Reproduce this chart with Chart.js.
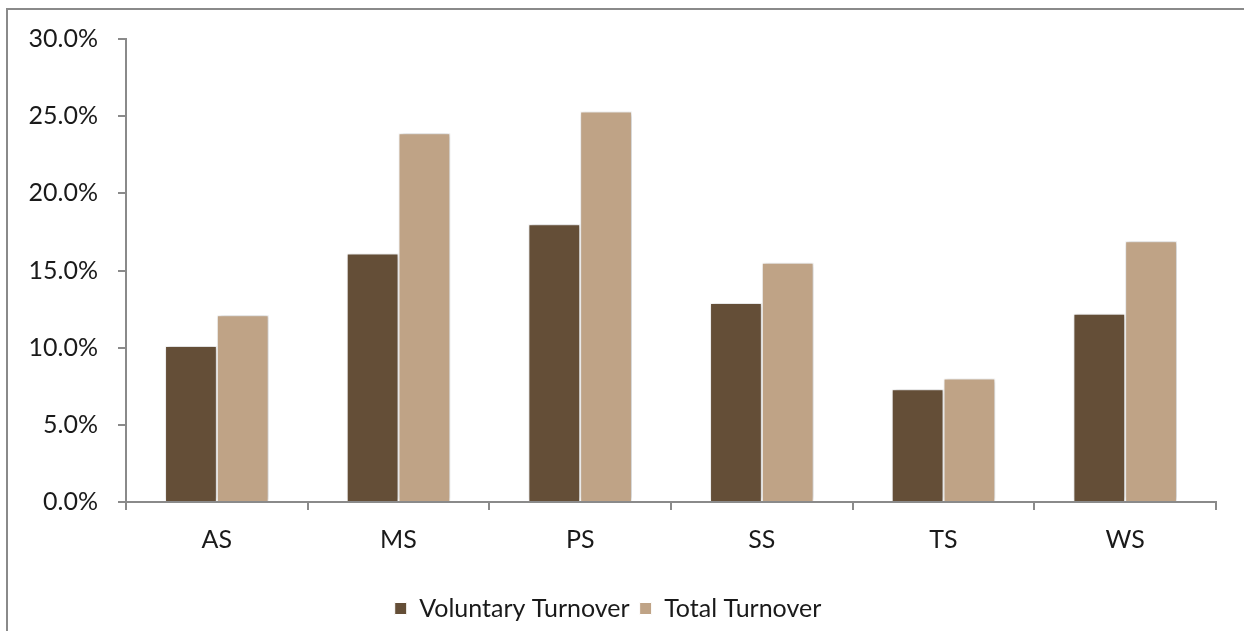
<!DOCTYPE html>
<html>
<head>
<meta charset="utf-8">
<script src="https://cdn.jsdelivr.net/npm/chart.js@4/dist/chart.umd.min.js"></script>
<style>
    html, body { margin: 0; padding: 0; background: #fff; }
    #frame {
        position: absolute; left: 6px; top: 8px; width: 1300px; height: 700px;
        border-left: 2px solid #8a8a8a; border-top: 2px solid #8a8a8a;
    }
    #wrap { position: absolute; left: 0; top: 0; width: 1244px; height: 631px; }
</style>
</head>
<body>
<div id="frame"></div>
<div id="wrap"><canvas id="turnoverChart"></canvas></div>
<script>
// Chart data
const categories = ['AS', 'MS', 'PS', 'SS', 'TS', 'WS'];
const voluntaryTurnover = [10.1, 16.1, 18.0, 12.9, 7.3, 12.2];
const totalTurnover = [12.1, 23.9, 25.3, 15.5, 8.0, 16.9];
const yTicks = [0, 5, 10, 15, 20, 25, 30];

const colors = {
    voluntary: '#644E37',
    total: '#BFA386',
    axis: '#8a8a8a',
    text: '#1a1a1a'
};

// soft shadow behind the bars, like the office chart
const barShadow = {
    id: 'barShadow',
    beforeDatasetsDraw(chart) {
        const c = chart.ctx;
        c.save();
        c.shadowColor = 'rgba(0, 0, 0, 0.28)';
        c.shadowBlur = 5;
        c.shadowOffsetX = 1;
        c.shadowOffsetY = 0;
    },
    afterDatasetsDraw(chart) {
        chart.ctx.restore();
    }
};

Chart.defaults.font.family = "Lato, 'Open Sans', sans-serif";
Chart.defaults.font.size = 25;
Chart.defaults.color = colors.text;

new Chart(document.getElementById('turnoverChart'), {
    type: 'bar',
    data: {
        labels: categories,
        datasets: [
            {
                label: 'Voluntary Turnover',
                data: voluntaryTurnover,
                backgroundColor: colors.voluntary,
                borderColor: '#ffffff',
                borderWidth: 1
            },
            {
                label: 'Total Turnover',
                data: totalTurnover,
                backgroundColor: colors.total,
                borderColor: '#ffffff',
                borderWidth: 1
            }
        ]
    },
    options: {
        responsive: true,
        maintainAspectRatio: false,
        animation: false,
        categoryPercentage: 0.57,
        barPercentage: 1,
        layout: {
            padding: { top: 39, right: 28, bottom: 0, left: 0 }
        },
        plugins: {
            legend: {
                position: 'bottom',
                labels: {
                    boxWidth: 12,
                    boxHeight: 12,
                    padding: 10,
                    color: colors.text
                }
            },
            tooltip: { enabled: false }
        },
        scales: {
            x: {
                grid: {
                    display: true,
                    drawOnChartArea: false,
                    drawTicks: true,
                    tickLength: 8,
                    color: colors.axis,
                    lineWidth: 2,
                    offset: true
                },
                border: { display: true, color: colors.axis, width: 2 },
                ticks: { padding: 15, color: colors.text },
                afterFit: (scale) => { scale.height = 84; }
            },
            y: {
                min: 0,
                max: 30,
                afterBuildTicks: (scale) => {
                    scale.ticks = yTicks.map(v => ({ value: v }));
                },
                grid: {
                    display: true,
                    drawOnChartArea: false,
                    drawTicks: true,
                    tickLength: 8,
                    color: colors.axis,
                    lineWidth: 2
                },
                border: { display: true, color: colors.axis, width: 2 },
                ticks: {
                    padding: 20,
                    color: colors.text,
                    callback: (v) => Number(v).toFixed(1) + '%'
                },
                afterFit: (scale) => { scale.width = 126; }
            }
        }
    },
    plugins: [barShadow]
});
</script>
</body>
</html>
